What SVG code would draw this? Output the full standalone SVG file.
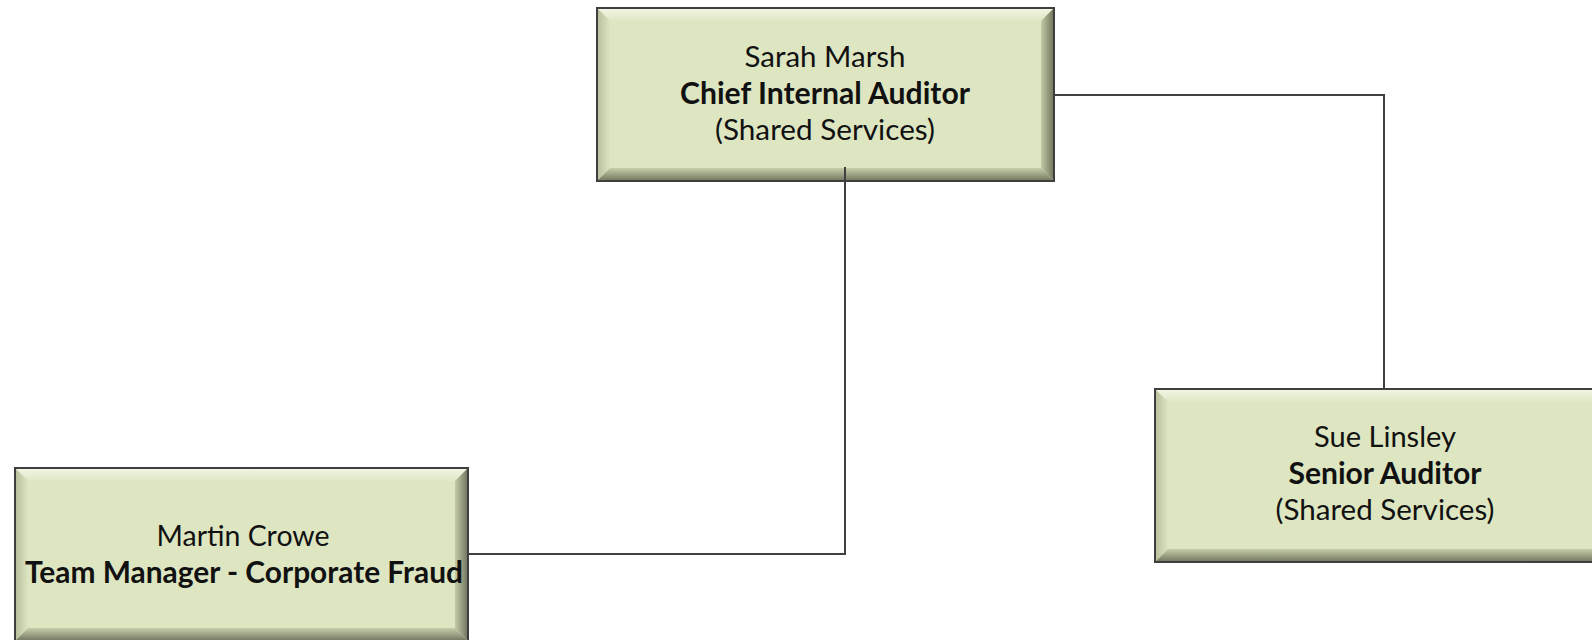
<svg xmlns="http://www.w3.org/2000/svg" width="1592" height="640" viewBox="0 0 1592 640">
  <defs>
    <linearGradient id="bevTop" x1="0" y1="0" x2="0" y2="1">
      <stop offset="0" stop-color="#F3F6E6"/>
      <stop offset="1" stop-color="#DFE7C4"/>
    </linearGradient>
    <linearGradient id="bevLeft" x1="0" y1="0" x2="1" y2="0">
      <stop offset="0" stop-color="#B7BE9C"/>
      <stop offset="1" stop-color="#DCE4C0"/>
    </linearGradient>
    <linearGradient id="bevBottom" x1="0" y1="0" x2="0" y2="1">
      <stop offset="0" stop-color="#C6CDAA"/>
      <stop offset="1" stop-color="#71765E"/>
    </linearGradient>
    <linearGradient id="bevRight" x1="0" y1="0" x2="1" y2="0">
      <stop offset="0" stop-color="#C3CAA7"/>
      <stop offset="1" stop-color="#6E735B"/>
    </linearGradient>
  </defs>
  <style>
    .face { fill: #DDE5C1; }
    .frame { fill: none; stroke: #3F3F3F; stroke-width: 2; }
    .t { font-family: Lato, "Liberation Sans", sans-serif; font-size: 29.5px; fill: #111111; text-anchor: middle; }
    .b { font-weight: bold; }
    .conn { fill: none; stroke: #404040; stroke-width: 2; }
  </style>
  <rect width="1592" height="640" fill="#FFFFFF"/>

  <!-- Chief Internal Auditor -->
  <g id="sarah-marsh">
    <rect class="face" x="597" y="8" width="457" height="173"/>
    <polygon fill="url(#bevTop)" points="597,8 1054,8 1041,21 610,21"/>
    <polygon fill="url(#bevLeft)" points="597,8 610,21 610,168 597,181"/>
    <polygon fill="url(#bevBottom)" points="597,181 1054,181 1041,168 610,168"/>
    <polygon fill="url(#bevRight)" points="1054,8 1054,181 1041,168 1041,21"/>
    <rect class="frame" x="597" y="8" width="457" height="173"/>
    <text class="t" x="825" y="67" textLength="161" lengthAdjust="spacingAndGlyphs">Sarah Marsh</text>
    <text class="t b" x="825" y="104" textLength="290" lengthAdjust="spacingAndGlyphs">Chief Internal Auditor</text>
    <text class="t" x="825" y="140" textLength="220" lengthAdjust="spacingAndGlyphs">(Shared Services)</text>
  </g>

  <!-- Senior Auditor -->
  <g id="sue-linsley">
    <rect class="face" x="1155" y="389" width="460" height="173"/>
    <polygon fill="url(#bevTop)" points="1155,389 1615,389 1602,402 1168,402"/>
    <polygon fill="url(#bevLeft)" points="1155,389 1168,402 1168,549 1155,562"/>
    <polygon fill="url(#bevBottom)" points="1155,562 1615,562 1602,549 1168,549"/>
    <polygon fill="url(#bevRight)" points="1615,389 1615,562 1602,549 1602,402"/>
    <rect class="frame" x="1155" y="389" width="460" height="173"/>
    <text class="t" x="1385" y="447" textLength="142" lengthAdjust="spacingAndGlyphs">Sue Linsley</text>
    <text class="t b" x="1385" y="484" textLength="193" lengthAdjust="spacingAndGlyphs">Senior Auditor</text>
    <text class="t" x="1385" y="520" textLength="219" lengthAdjust="spacingAndGlyphs">(Shared Services)</text>
  </g>

  <!-- Team Manager - Corporate Fraud -->
  <g id="martin-crowe">
    <rect class="face" x="15" y="468" width="453" height="173"/>
    <polygon fill="url(#bevTop)" points="15,468 468,468 455,481 28,481"/>
    <polygon fill="url(#bevLeft)" points="15,468 28,481 28,628 15,641"/>
    <polygon fill="url(#bevBottom)" points="15,641 468,641 455,628 28,628"/>
    <polygon fill="url(#bevRight)" points="468,468 468,641 455,628 455,481"/>
    <rect class="frame" x="15" y="468" width="453" height="173"/>
    <text class="t" x="243" y="546" textLength="173" lengthAdjust="spacingAndGlyphs">Martin Crowe</text>
    <text class="t b" x="244" y="583" textLength="438" lengthAdjust="spacingAndGlyphs">Team Manager - Corporate Fraud</text>
  </g>

  <!-- reporting lines -->
  <g id="connectors">
    <path class="conn" d="M1054 95 H1384 V389"/>
    <path class="conn" d="M845 167 V554 H468"/>
  </g>
</svg>
